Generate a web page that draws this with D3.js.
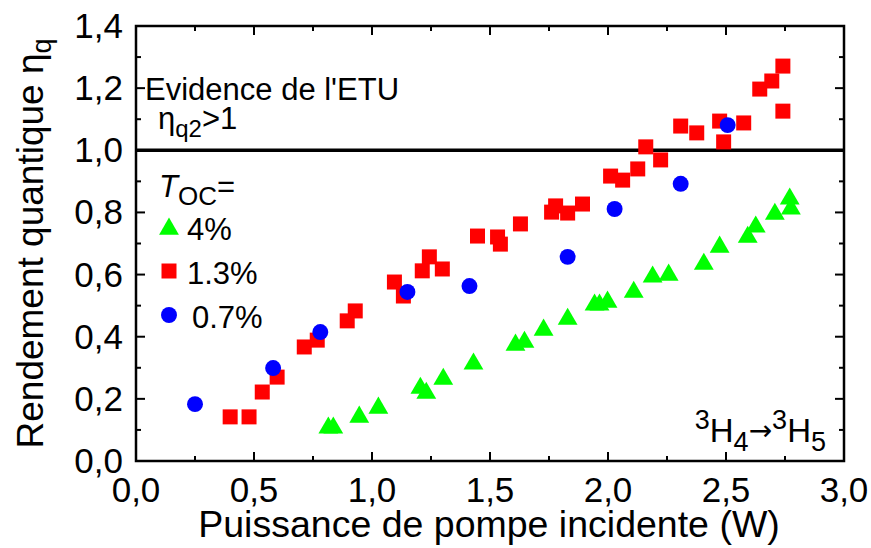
<!DOCTYPE html>
<html>
<head>
<meta charset="utf-8">
<script src="https://cdn.jsdelivr.net/npm/d3@7"></script>
<style>
  body { margin: 0; background: #fff; }
  text { font-family: "Liberation Sans", Arial, sans-serif; fill: #000; }
</style>
</head>
<body>
<svg id="chart"></svg>
<script>
// T_OC = 4 %  (green triangles)  [power W, eta_q]
const toc4 = [
  [0.815, 0.113], [0.836, 0.113], [0.946, 0.148], [1.027, 0.177], [1.205, 0.241],
  [1.230, 0.225], [1.302, 0.270], [1.430, 0.319], [1.608, 0.380], [1.646, 0.389],
  [1.727, 0.428], [1.829, 0.463], [1.943, 0.509], [1.964, 0.509], [1.998, 0.518],
  [2.109, 0.550], [2.189, 0.599], [2.257, 0.605], [2.406, 0.640], [2.473, 0.695],
  [2.592, 0.727], [2.626, 0.760], [2.707, 0.801], [2.770, 0.850], [2.775, 0.818]
];
// T_OC = 1.3 %  (red squares)
const toc13 = [
  [0.399, 0.142], [0.479, 0.142], [0.535, 0.222], [0.598, 0.270], [0.713, 0.367],
  [0.768, 0.389], [0.895, 0.451], [0.929, 0.483], [1.095, 0.576], [1.133, 0.531],
  [1.213, 0.612], [1.243, 0.657], [1.298, 0.618], [1.447, 0.724], [1.532, 0.721],
  [1.544, 0.698], [1.629, 0.763], [1.761, 0.801], [1.778, 0.821], [1.829, 0.798],
  [1.892, 0.827], [2.011, 0.917], [2.062, 0.904], [2.126, 0.940], [2.160, 1.011],
  [2.223, 0.969], [2.308, 1.078], [2.376, 1.056], [2.473, 1.094], [2.490, 1.027],
  [2.575, 1.088], [2.643, 1.197], [2.694, 1.223], [2.741, 1.271], [2.741, 1.126]
];
// T_OC = 0.7 %  (blue circles)
const toc07 = [
  [0.250, 0.183], [0.581, 0.299], [0.781, 0.415], [1.150, 0.544], [1.413, 0.563],
  [1.829, 0.657], [2.028, 0.811], [2.308, 0.892], [2.507, 1.081]
];

const xTicks = [0, 0.5, 1, 1.5, 2, 2.5, 3];
const yTicks = [0, 0.2, 0.4, 0.6, 0.8, 1.0, 1.2, 1.4];
const legendLabels = ["4%", "1.3%", "0.7%"];

const svgWidth = 871;
const svgHeight = 548;
const margin = { top: 26, right: 27, bottom: 87, left: 136 };
const width = svgWidth - margin.left - margin.right;
const height = svgHeight - margin.top - margin.bottom;

const svg = d3.select("#chart").attr("width", svgWidth).attr("height", svgHeight);
const g = svg.append("g").attr("transform", `translate(${margin.left},${margin.top})`);

const xScale = d3.scaleLinear().domain([0, 3]).range([0, width]);
const yScale = d3.scaleLinear().domain([0, 1.4]).range([height, 0]);

const fmt = (d) => d3.format(".1f")(d).replace(".", ",");

// ticks on all four sides, pointing inward
const xMinor = d3.range(0, 3.001, 0.25);
const yMinor = d3.range(0, 1.401, 0.1);
const isMajorX = (d) => Math.abs(d * 2 - Math.round(d * 2)) < 1e-6;
const isMajorY = (d) => Math.abs(d * 5 - Math.round(d * 5)) < 1e-6;

const tickG = g.append("g").attr("stroke", "#000").attr("stroke-width", 2);
xMinor.forEach((d) => {
  const len = isMajorX(d) ? 9 : 5;
  tickG.append("line").attr("x1", xScale(d)).attr("x2", xScale(d)).attr("y1", height).attr("y2", height - len);
  tickG.append("line").attr("x1", xScale(d)).attr("x2", xScale(d)).attr("y1", 0).attr("y2", len);
});
yMinor.forEach((d) => {
  const len = isMajorY(d) ? 9 : 5;
  tickG.append("line").attr("y1", yScale(d)).attr("y2", yScale(d)).attr("x1", 0).attr("x2", len);
  tickG.append("line").attr("y1", yScale(d)).attr("y2", yScale(d)).attr("x1", width).attr("x2", width - len);
});

// frame
g.append("rect")
  .attr("width", width)
  .attr("height", height)
  .attr("fill", "none")
  .attr("stroke", "#000")
  .attr("stroke-width", 2.5);

// tick labels
g.selectAll(".xlab").data(xTicks).enter().append("text")
  .attr("x", (d) => xScale(d))
  .attr("y", height + 41)
  .attr("text-anchor", "middle")
  .style("font-size", "35px")
  .text(fmt);

g.selectAll(".ylab").data(yTicks).enter().append("text")
  .attr("x", -13)
  .attr("y", (d) => yScale(d) + 12)
  .attr("text-anchor", "end")
  .style("font-size", "35px")
  .text(fmt);

// axis titles
svg.append("text")
  .attr("x", margin.left + width / 2 - 1)
  .attr("y", 537)
  .attr("text-anchor", "middle")
  .style("font-size", "37.5px")
  .text("Puissance de pompe incidente (W)");

const yt = svg.append("text")
  .attr("transform", `translate(43, ${margin.top + height / 2}) rotate(-90)`)
  .attr("text-anchor", "middle")
  .style("font-size", "37px");
yt.append("tspan").text("Rendement quantique \u03b7");
yt.append("tspan").attr("dy", 8).style("font-size", "27px").text("q");

// eta_q = 1 line
g.append("line")
  .attr("x1", 0).attr("x2", width)
  .attr("y1", yScale(1)).attr("y2", yScale(1))
  .attr("stroke", "#000").attr("stroke-width", 3.5);

// markers
const tri = d3.symbol().type(d3.symbolTriangle).size(170);
const sq = d3.symbol().type(d3.symbolSquare).size(225);
const circ = d3.symbol().type(d3.symbolCircle).size(200);

g.selectAll(".sq").data(toc13).enter().append("path")
  .attr("d", sq)
  .attr("transform", (d) => `translate(${xScale(d[0])},${yScale(d[1])})`)
  .attr("fill", "#ff0000");

g.selectAll(".circ").data(toc07).enter().append("path")
  .attr("d", circ)
  .attr("transform", (d) => `translate(${xScale(d[0])},${yScale(d[1])})`)
  .attr("fill", "#0000ff");

g.selectAll(".tri").data(toc4).enter().append("path")
  .attr("d", tri)
  .attr("transform", (d) => `translate(${xScale(d[0])},${yScale(d[1]) + 2})`)
  .attr("fill", "#00ff00");

// annotations
svg.append("text").attr("x", 145).attr("y", 100).style("font-size", "31px").text("Evidence de l'ETU");
const eta = svg.append("text").attr("x", 158).attr("y", 129).style("font-size", "31px");
eta.append("tspan").text("\u03b7");
eta.append("tspan").attr("dy", 8).style("font-size", "24px").text("q2");
eta.append("tspan").attr("dy", -8).text(">1");

// legend
const toc = svg.append("text").attr("x", 159).attr("y", 197).style("font-size", "31px");
toc.append("tspan").style("font-style", "italic").text("T");
toc.append("tspan").attr("dy", 8).style("font-size", "26px").text("OC");
toc.append("tspan").attr("dy", -8).text("=");

const legendMarks = [
  { sym: tri, color: "#00ff00", y: 227 },
  { sym: sq, color: "#ff0000", y: 271 },
  { sym: circ, color: "#0000ff", y: 315 }
];
legendMarks.forEach((m, i) => {
  svg.append("path")
    .attr("d", m.sym)
    .attr("transform", `translate(169,${m.y + (i === 0 ? 2 : 0)})`)
    .attr("fill", m.color);
  svg.append("text")
    .attr("x", i === 2 ? 192 : 187)
    .attr("y", m.y + 13)
    .style("font-size", "31px")
    .text(legendLabels[i]);
});

// transition label
const tr = svg.append("text").attr("x", 826).attr("y", 442).attr("text-anchor", "end").style("font-size", "33px");
tr.append("tspan").attr("dy", -13).style("font-size", "27px").text("3");
tr.append("tspan").attr("dy", 13).text("H");
tr.append("tspan").attr("dy", 9).style("font-size", "27px").text("4");
tr.append("tspan").attr("dy", -11).style("font-family", "'DejaVu Sans'").style("font-size", "28px").text("\u2192");
tr.append("tspan").attr("dy", -11).style("font-size", "27px").text("3");
tr.append("tspan").attr("dy", 13).text("H");
tr.append("tspan").attr("dy", 9).style("font-size", "27px").text("5");
</script>
</body>
</html>
